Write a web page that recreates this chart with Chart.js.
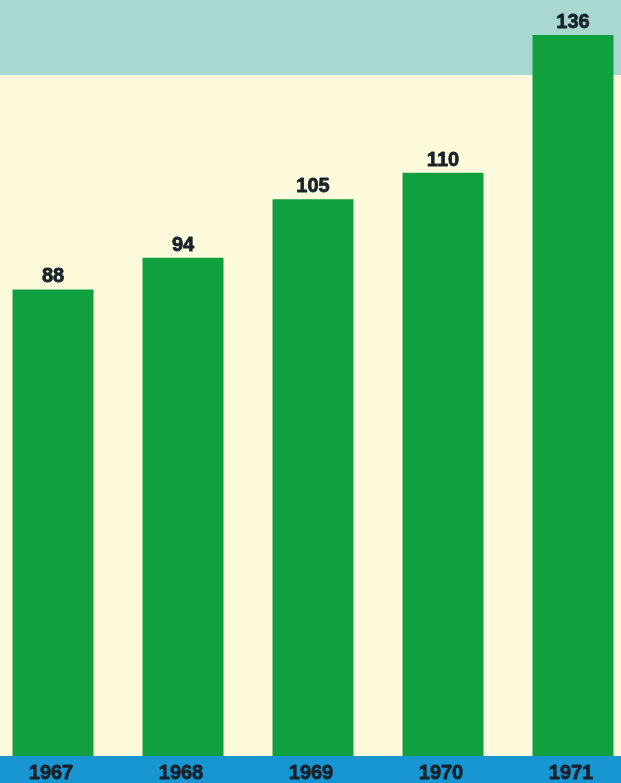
<!DOCTYPE html>
<html>
<head>
<meta charset="utf-8">
<script src="https://cdn.jsdelivr.net/npm/chart.js@4/dist/chart.umd.min.js"></script>
<style>
  html, body { margin: 0; padding: 0; overflow: hidden; background: #fdfbdc; }
  #wrap { position: absolute; left: -12px; top: 0; width: 650px; height: 783px; }
</style>
</head>
<body>
<div id="wrap"><canvas id="chart" width="650" height="783"></canvas></div>
<script>
const years = ['1967', '1968', '1969', '1970', '1971'];
const values = [88, 94, 105, 110, 136];
const yMax = 142.6;

const textColor = '#17222b';

// page background: teal band on top, cream field, blue strip for the years
const bands = {
  id: 'bands',
  beforeDraw(chart) {
    const { ctx, width, height, chartArea } = chart;
    ctx.save();
    ctx.fillStyle = '#fdfbdc';
    ctx.fillRect(0, 0, width, height);
    ctx.fillStyle = '#a8d8d0';
    ctx.fillRect(0, 0, width, 75);
    ctx.fillStyle = '#1896d2';
    ctx.fillRect(0, chartArea.bottom, width, height - chartArea.bottom);
    ctx.restore();
  }
};

function heavyText(ctx, txt, x, y) {
  ctx.strokeText(txt, x, y);
  ctx.fillText(txt, x, y);
}

const labels = {
  id: 'labels',
  afterDatasetsDraw(chart) {
    const { ctx } = chart;
    const meta = chart.getDatasetMeta(0);
    const xScale = chart.scales.x;
    ctx.save();
    ctx.fillStyle = textColor;
    ctx.strokeStyle = textColor;
    ctx.lineWidth = 0.8;
    ctx.lineJoin = 'round';
    ctx.textAlign = 'center';
    ctx.textBaseline = 'alphabetic';
    ctx.font = 'bold 20px "Liberation Sans", Arial, sans-serif';
    meta.data.forEach((bar, i) => {
      heavyText(ctx, String(values[i]), bar.x, bar.y - 7);
    });
    years.forEach((y, i) => {
      heavyText(ctx, y, xScale.getPixelForValue(i) - 2, 779);
    });
    ctx.restore();
  }
};

new Chart(document.getElementById('chart'), {
  type: 'bar',
  data: {
    labels: years,
    datasets: [{
      data: values,
      backgroundColor: '#10a040',
      borderWidth: 0,
      categoryPercentage: 1,
      barPercentage: 0.623
    }]
  },
  options: {
    responsive: false,
    animation: false,
    layout: { padding: { top: 0, bottom: 27, left: 0, right: 0 } },
    plugins: { legend: { display: false }, tooltip: { enabled: false } },
    scales: {
      x: { display: false },
      y: { display: false, min: 0, max: yMax }
    }
  },
  plugins: [bands, labels]
});
</script>
</body>
</html>
